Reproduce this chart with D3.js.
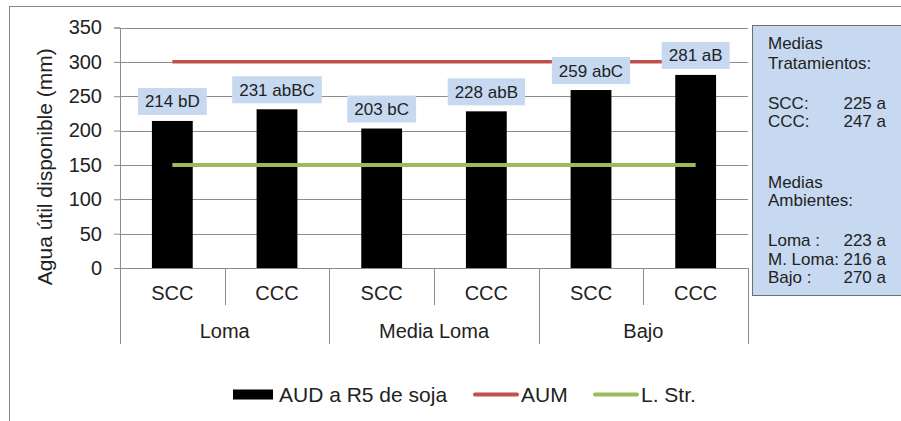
<!DOCTYPE html>
<html>
<head>
<meta charset="utf-8">
<script src="https://cdn.jsdelivr.net/npm/d3@7"></script>
<style>
  html, body { margin: 0; padding: 0; background: #fff; }
  svg { display: block; font-family: "Liberation Sans", Arial, sans-serif; }
</style>
</head>
<body>
<svg id="chart" width="901" height="421"></svg>
<script>
// Treatments (x inner level) and environments (x outer level)
const treatments = ["SCC", "CCC", "SCC", "CCC", "SCC", "CCC"];
const environments = ["Loma", "Media Loma", "Bajo"];
// AUD a R5 de soja (mm) and significance letters
const audValues = [214, 231, 203, 228, 259, 281];
const audLetters = ["bD", "abBC", "bC", "abB", "abC", "aB"];
// Reference lines
const aumValues = [300, 300, 300, 300, 300, 300];
const lstrValues = [150, 150, 150, 150, 150, 150];
// Y axis ticks
const yTicks = [0, 50, 100, 150, 200, 250, 300, 350];
// Side notes: means
const treatmentMeans = [["SCC:", "225 a"], ["CCC:", "247 a"]];
const environmentMeans = [["Loma :", "223 a"], ["M. Loma:", "216 a"], ["Bajo :", "270 a"]];
// Legend entries
const legendItems = [
  { name: "AUD a R5 de soja", kind: "bar", color: "#000000" },
  { name: "AUM", kind: "line", color: "#C0504D" },
  { name: "L. Str.", kind: "line", color: "#9BBB59" }
];

const svg = d3.select("#chart");
const textColor = "#222222";
const gridColor = "#8c8c8c";

// Outer chart frame (runs past the right/bottom edges)
svg.append("rect")
  .attr("x", 9.5).attr("y", 6.5)
  .attr("width", 1000).attr("height", 1000)
  .attr("fill", "#fff").attr("stroke", "#8a8a8a").attr("stroke-width", 1);

const plot = { left: 120, right: 748, top: 27.5, bottom: 268 };

const keys = treatments.map((t, i) => i);
const x = d3.scaleBand().domain(keys).range([plot.left, plot.right]).padding(0);
const y = d3.scaleLinear().domain([0, 350]).range([plot.bottom, plot.top]);

// Gridlines + y axis
const yAxis = d3.axisLeft(y).tickValues(yTicks).tickSize(6).tickPadding(12);
const gy = svg.append("g").attr("transform", `translate(${plot.left},0)`).call(yAxis);
gy.select(".domain").attr("stroke", gridColor);
gy.selectAll(".tick line").attr("stroke", gridColor);
gy.selectAll(".tick text").attr("fill", textColor).attr("font-size", 20)
  .attr("font-family", "Liberation Sans, Arial, sans-serif");

svg.append("g").selectAll("line.grid")
  .data(yTicks.filter(d => d > 0))
  .join("line")
  .attr("x1", plot.left).attr("x2", plot.right)
  .attr("y1", d => Math.round(y(d)) + 0.5).attr("y2", d => Math.round(y(d)) + 0.5)
  .attr("stroke", gridColor).attr("stroke-width", 1);

// Category axis baseline
svg.append("line")
  .attr("x1", plot.left - 6).attr("x2", plot.right)
  .attr("y1", Math.round(y(0)) + 0.5).attr("y2", Math.round(y(0)) + 0.5)
  .attr("stroke", gridColor);

// Bars
const barW = x.bandwidth() * 0.39;
svg.append("g").selectAll("rect")
  .data(audValues)
  .join("rect")
  .attr("x", (d, i) => x(i) + (x.bandwidth() - barW) / 2)
  .attr("width", barW)
  .attr("y", d => y(d))
  .attr("height", d => y(0) - y(d))
  .attr("fill", "#000");

// Reference lines across category centres
const cx = i => x(i) + x.bandwidth() / 2;
const lineGen = d3.line().x((d, i) => cx(i)).y(d => y(d));
svg.append("path").datum(aumValues).attr("d", lineGen)
  .attr("fill", "none").attr("stroke", "#C0504D").attr("stroke-width", 3.5);
svg.append("path").datum(lstrValues).attr("d", lineGen)
  .attr("fill", "none").attr("stroke", "#9BBB59").attr("stroke-width", 4);

// Data labels on shaded boxes
const boxH = 27, boxGap = 6;
const lab = svg.append("g").selectAll("g").data(audValues).join("g");
lab.each(function (d, i) {
  const g = d3.select(this);
  const t = g.append("text")
    .attr("x", cx(i)).attr("y", y(d) - boxGap - boxH / 2 + 6)
    .attr("text-anchor", "middle").attr("font-size", 17).attr("fill", textColor)
    .text(`${d} ${audLetters[i]}`);
  const w = t.node().getComputedTextLength() + 14;
  g.insert("rect", "text")
    .attr("x", cx(i) - w / 2).attr("y", y(d) - boxGap - boxH)
    .attr("width", w).attr("height", boxH)
    .attr("fill", "#C6D9F1");
});

// Two-level category axis
const axisY = Math.round(y(0));
const sepG = svg.append("g");
d3.range(treatments.length + 1).forEach(i => {
  const xx = Math.round(i < treatments.length ? x(i) : plot.right) + 0.5;
  const major = i % 2 === 0;
  sepG.append("line")
    .attr("x1", xx).attr("x2", xx)
    .attr("y1", axisY).attr("y2", major ? 344 : 305)
    .attr("stroke", gridColor);
});
svg.append("g").selectAll("text").data(treatments).join("text")
  .attr("x", (d, i) => cx(i)).attr("y", 300)
  .attr("text-anchor", "middle").attr("font-size", 20).attr("fill", textColor)
  .text(d => d);
svg.append("g").selectAll("text").data(environments).join("text")
  .attr("x", (d, i) => (x(2 * i) + x(2 * i + 1) + x.bandwidth()) / 2).attr("y", 338)
  .attr("text-anchor", "middle").attr("font-size", 20).attr("fill", textColor)
  .text(d => d);

// Y axis title
svg.append("text")
  .attr("transform", `translate(52,${(plot.top + plot.bottom) / 2 + 19}) rotate(-90)`)
  .attr("text-anchor", "middle").attr("font-size", 21).attr("fill", textColor)
  .text("Agua útil disponible (mm)");

// Side box with means
svg.append("rect")
  .attr("x", 752.5).attr("y", 25.5).attr("width", 300).attr("height", 270)
  .attr("fill", "#C6D9F1").attr("stroke", "#6f6f6f");
const note = svg.append("g").attr("font-size", 17).attr("fill", textColor);
const noteLeft = 768, noteRight = 886;
[["Medias", 49], ["Tratamientos:", 69], ["Medias", 188], ["Ambientes:", 206]].forEach(([s, yy]) => {
  note.append("text").attr("x", noteLeft).attr("y", yy).text(s);
});
treatmentMeans.forEach(([n, v], i) => {
  const yy = 109 + i * 17.5;
  note.append("text").attr("x", noteLeft).attr("y", yy).text(n);
  note.append("text").attr("x", noteRight).attr("y", yy).attr("text-anchor", "end").text(v);
});
environmentMeans.forEach(([n, v], i) => {
  const yy = 246 + i * 18.5;
  note.append("text").attr("x", noteLeft).attr("y", yy).text(n);
  note.append("text").attr("x", noteRight).attr("y", yy).attr("text-anchor", "end").text(v);
});

// Legend
const legY = 394.5;
const legPos = [233, 474, 594];
const leg = svg.append("g").selectAll("g").data(legendItems).join("g")
  .attr("transform", (d, i) => `translate(${legPos[i]},${legY})`);
leg.each(function (d) {
  const g = d3.select(this);
  if (d.kind === "bar") {
    g.append("rect").attr("x", 0).attr("y", -5).attr("width", 40).attr("height", 10).attr("fill", d.color);
    g.append("text").attr("x", 46).attr("y", 7.5).attr("font-size", 21).attr("fill", textColor).text(d.name);
  } else {
    g.append("line").attr("x1", 1).attr("x2", 43).attr("y1", 0).attr("y2", 0)
      .attr("stroke", d.color).attr("stroke-width", 4).attr("stroke-linecap", "round");
    g.append("text").attr("x", 47).attr("y", 7.5).attr("font-size", 21).attr("fill", textColor).text(d.name);
  }
});
</script>
</body>
</html>
